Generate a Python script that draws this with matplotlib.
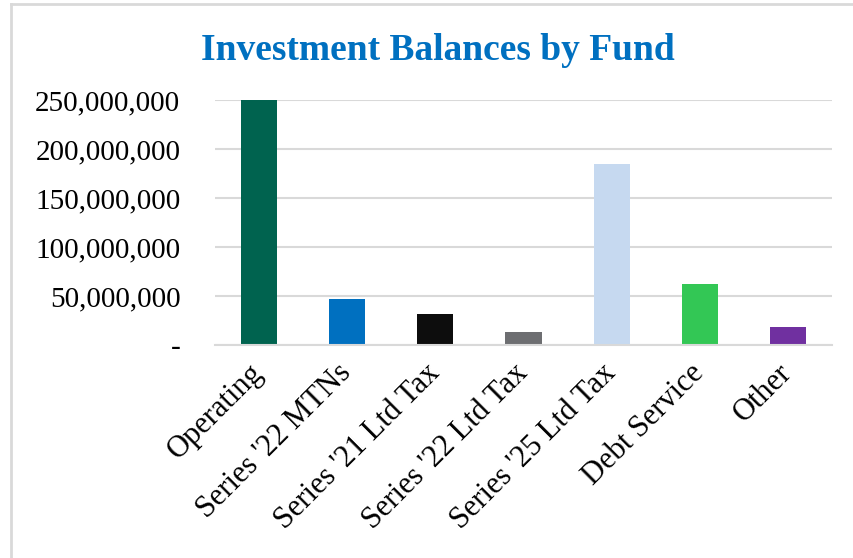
import matplotlib
matplotlib.use("Agg")
import matplotlib.pyplot as plt
from matplotlib.lines import Line2D
from matplotlib.ticker import FuncFormatter

funds = [
    "Operating", "Series '22 MTNs", "Series '21 Ltd Tax", "Series '22 Ltd Tax",
    "Series '25 Ltd Tax", "Debt Service", "Other",
]
balances = [249_800_000, 46_700_000, 31_400_000, 13_000_000, 184_500_000, 62_000_000, 18_100_000]
colors = ["#00634F", "#0070C0", "#0D0D0D", "#6D6E71", "#C6D9F0", "#33C755", "#7030A0"]
yticks = [0, 50_000_000, 100_000_000, 150_000_000, 200_000_000, 250_000_000]

plt.rcParams["font.family"] = ["Liberation Serif", "DejaVu Serif"]

fig = plt.figure(figsize=(8.54, 5.58), dpi=100)
ax = fig.add_axes([0.2518, 0.3817, 0.7224, 0.4391])

ax.bar(range(len(funds)), balances, width=0.41, color=colors, zorder=3)
ax.set_xlim(-0.5, len(funds) - 0.5)
ax.set_ylim(0, 250_000_000)
ax.set_yticks(yticks)
ax.yaxis.set_major_formatter(FuncFormatter(lambda v, _: "-" if v == 0 else f"{v:,.0f}"))
ax.set_xticks(range(len(funds)))
ax.set_xticklabels(funds, rotation=45, ha="right", va="center", rotation_mode="anchor")

ax.tick_params(axis="y", length=0, pad=25, labelsize=21)
ax.tick_params(axis="x", length=0, pad=17, labelsize=22)
ax.grid(axis="y", color="#D9D9D9", linewidth=1.5, zorder=0)
ax.spines[["top", "right", "left"]].set_visible(False)
ax.spines["bottom"].set_color("#D9D9D9")
ax.spines["bottom"].set_linewidth(1.5)
ax.spines["bottom"].set_zorder(4)

fig.text(0.5125, 1 - 60 / 558, "Investment Balances by Fund", ha="center", va="baseline",
         fontsize=27, fontweight="bold", color="#0070C0")

# chart area frame (left and top edges)
fig.add_artist(Line2D([11 / 854, 11 / 854], [0, 1 - 4 / 558], color="#D9D9D9", linewidth=2))
fig.add_artist(Line2D([11 / 854, 1], [1 - 4 / 558, 1 - 4 / 558], color="#D9D9D9", linewidth=2))

fig.savefig("out.png", dpi=100)
plt.close(fig)
